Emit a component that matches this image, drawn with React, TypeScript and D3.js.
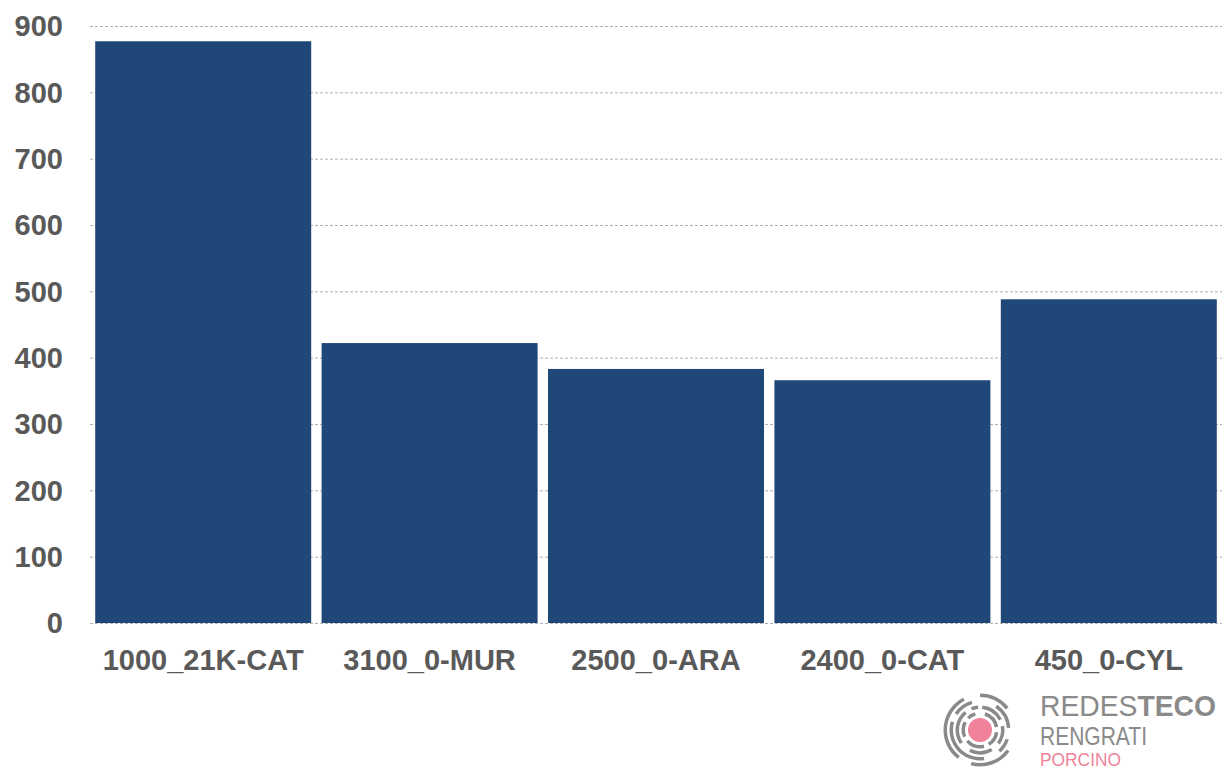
import React, { useEffect, useRef } from "react";
import * as d3 from "d3";

const categories = ["1000_21K-CAT", "3100_0-MUR", "2500_0-ARA", "2400_0-CAT", "450_0-CYL"];
const values = [877, 422, 383, 366, 488];
const yTicks = [0, 100, 200, 300, 400, 500, 600, 700, 800, 900];

const W = 1223;
const H = 769;
const BAR = "#1f4778";
const TEXT = "#595959";
const FONT = "'Liberation Sans', Arial, sans-serif";

const App = () => {
    const svgRef = useRef<SVGSVGElement>(null);

    useEffect(() => {
        if (!svgRef.current) return;
        const svg = d3.select(svgRef.current);
        svg.selectAll("*").remove();

        const margin = { top: 26, right: 1, bottom: 146, left: 90 };
        const iw = W - margin.left - margin.right;
        const ih = H - margin.top - margin.bottom;

        const g = svg.append("g").attr("transform", `translate(${margin.left},${margin.top})`);

        const x = d3.scaleBand().domain(categories).range([0, iw]).paddingInner(0.046).paddingOuter(0.023);
        const y = d3.scaleLinear().domain([0, 900]).range([ih, 0]);

        // gridlines
        g.append("g")
            .selectAll("line")
            .data(yTicks)
            .join("line")
            .attr("x1", 0)
            .attr("x2", iw)
            .attr("y1", d => y(d) + 0.5)
            .attr("y2", d => y(d) + 0.5)
            .attr("stroke", "#b0b0b0")
            .attr("stroke-width", 1)
            .attr("stroke-dasharray", "3,2");

        // y labels
        g.append("g")
            .selectAll("text")
            .data(yTicks)
            .join("text")
            .attr("x", -27)
            .attr("y", d => y(d))
            .attr("dy", "0.36em")
            .attr("text-anchor", "end")
            .attr("font-family", FONT)
            .attr("font-weight", "bold")
            .attr("font-size", "29px")
            .attr("fill", TEXT)
            .text(d => d);

        // bars
        g.append("g")
            .selectAll("rect")
            .data(categories)
            .join("rect")
            .attr("x", d => x(d)!)
            .attr("y", (d, i) => y(values[i]))
            .attr("width", x.bandwidth())
            .attr("height", (d, i) => ih - y(values[i]))
            .attr("fill", BAR);

        // x labels
        g.append("g")
            .selectAll("text")
            .data(categories)
            .join("text")
            .attr("x", d => x(d)! + x.bandwidth() / 2)
            .attr("y", ih + 47)
            .attr("text-anchor", "middle")
            .attr("font-family", FONT)
            .attr("font-weight", "bold")
            .attr("font-size", "29px")
            .attr("fill", TEXT)
            .text(d => d);

        // logo
        const logo = svg.append("g").attr("transform", "translate(980,730)");
        const arc = d3.arc<any>();
        const rings = [
            { r: 17, segs: [[0.3, 1.4], [1.7, 2.6], [2.9, 4.0], [4.3, 5.2], [5.5, 6.0]] },
            { r: 23, segs: [[0.1, 1.1], [1.4, 2.2], [2.6, 3.6], [4.1, 5.6], [5.9, 6.2]] },
            { r: 29, segs: [[0.6, 1.5], [1.9, 2.4], [3.0, 5.0], [5.3, 6.0]] },
            { r: 35, segs: [[0.0, 0.9], [2.2, 3.4], [3.8, 5.8]] },
        ];
        rings.forEach(ring => {
            ring.segs.forEach(([a0, a1]) => {
                logo.append("path")
                    .attr("d", arc({ innerRadius: ring.r - 2, outerRadius: ring.r + 1.5, startAngle: a0, endAngle: a1 }))
                    .attr("fill", "#8a8a8a");
            });
        });
        logo.append("circle").attr("r", 12).attr("fill", "#f0839a");

        svg.append("text")
            .attr("x", 1040)
            .attr("y", 716)
            .attr("font-family", FONT)
            .attr("font-size", "30px")
            .attr("fill", "#8a8a8a")
            .attr("textLength", 176)
            .attr("lengthAdjust", "spacingAndGlyphs")
            .call(t => {
                t.append("tspan").attr("font-weight", "300").text("REDES");
                t.append("tspan").attr("font-weight", "bold").text("TECO");
            });
        svg.append("text")
            .attr("x", 1040)
            .attr("y", 745)
            .attr("font-family", FONT)
            .attr("font-size", "25px")
            .attr("fill", "#8a8a8a")
            .attr("textLength", 107)
            .attr("lengthAdjust", "spacingAndGlyphs")
            .text("RENGRATI");
        svg.append("text")
            .attr("x", 1040)
            .attr("y", 766)
            .attr("font-family", FONT)
            .attr("font-size", "19px")
            .attr("fill", "#f0839a")
            .attr("textLength", 81)
            .attr("lengthAdjust", "spacingAndGlyphs")
            .text("PORCINO");
    }, []);

    return (
        <svg
            ref={svgRef}
            width={W}
            height={H}
            style={{ position: "absolute", left: 0, top: 0, background: "#fff" }}
        />
    );
};

export default App;
